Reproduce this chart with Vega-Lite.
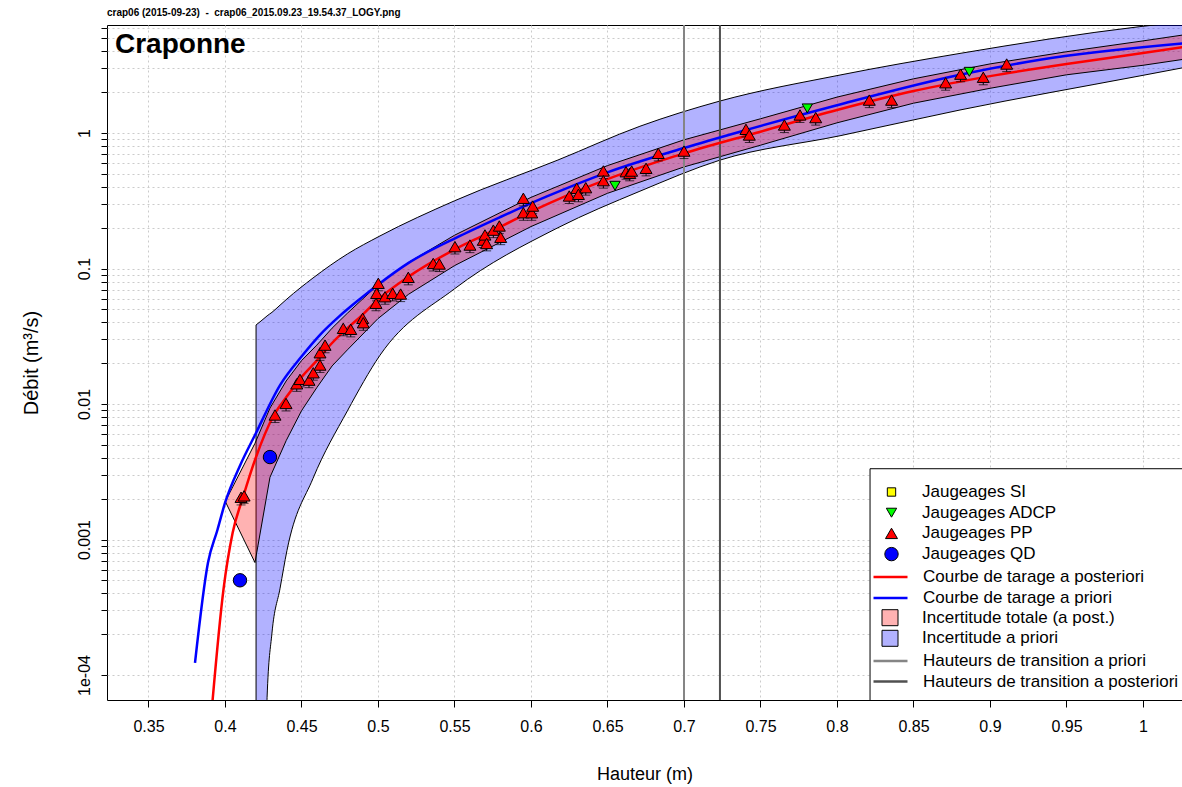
{
  "$schema": "https://vega.github.io/schema/vega-lite/v6.json",
  "width": 1075,
  "height": 675,
  "autosize": {"type": "none"},
  "padding": {"left": 107, "top": 25, "right": 0, "bottom": 87},
  "background": "white",
  "title": {
    "text": "crap06 (2015-09-23) \u00a0-\u00a0 crap06_2015.09.23_19.54.37_LOGY.png",
    "anchor": "start", "frame": "group", "fontSize": 10, "fontWeight": "bold",
    "offset": 6, "color": "black", "font": "Liberation Sans"
  },
  "config": {
    "font": "Liberation Sans",
    "view": {"stroke": "black", "strokeWidth": 1},
    "legend": {"labelFont": "Liberation Sans", "labelLimit": 500, "labelColor": "black"}
  },
  "datasets": {
    "prior_band": [
      {"h": 0.4203, "hi": 0.0383, "lo": 0.000001, "band": "Incertitude a priori"},
      {"h": 0.4268, "hi": 0.044, "lo": 0.000001, "band": "Incertitude a priori"},
      {"h": 0.4275, "hi": 0.0447, "lo": 0.000068, "band": "Incertitude a priori"},
      {"h": 0.4307, "hi": 0.0475, "lo": 0.000204, "band": "Incertitude a priori"},
      {"h": 0.436, "hi": 0.0537, "lo": 0.000437, "band": "Incertitude a priori"},
      {"h": 0.4405, "hi": 0.0596, "lo": 0.00083, "band": "Incertitude a priori"},
      {"h": 0.4575, "hi": 0.0851, "lo": 0.00282, "band": "Incertitude a priori"},
      {"h": 0.48, "hi": 0.128, "lo": 0.0089, "band": "Incertitude a priori"},
      {"h": 0.5013, "hi": 0.174, "lo": 0.0229, "band": "Incertitude a priori"},
      {"h": 0.55, "hi": 0.316, "lo": 0.0708, "band": "Incertitude a priori"},
      {"h": 0.6176, "hi": 0.632, "lo": 0.2, "band": "Incertitude a priori"},
      {"h": 0.6712, "hi": 1.122, "lo": 0.372, "band": "Incertitude a priori"},
      {"h": 0.7235, "hi": 1.722, "lo": 0.631, "band": "Incertitude a priori"},
      {"h": 0.802, "hi": 2.68, "lo": 0.955, "band": "Incertitude a priori"},
      {"h": 0.8804, "hi": 3.87, "lo": 1.479, "band": "Incertitude a priori"},
      {"h": 0.998, "hi": 6.1, "lo": 2.64, "band": "Incertitude a priori"},
      {"h": 1.03, "hi": 6.68, "lo": 3.09, "band": "Incertitude a priori"}
    ],
    "post_band": [
      {"h": 0.4002, "hi": 0.00191, "lo": 0.00191, "band": "Incertitude totale (a post.)"},
      {"h": 0.4196, "hi": 0.00513, "lo": 0.000676, "band": "Incertitude totale (a post.)"},
      {"h": 0.4294, "hi": 0.00933, "lo": 0.00288, "band": "Incertitude totale (a post.)"},
      {"h": 0.44, "hi": 0.0148, "lo": 0.00537, "band": "Incertitude totale (a post.)"},
      {"h": 0.45, "hi": 0.0209, "lo": 0.00891, "band": "Incertitude totale (a post.)"},
      {"h": 0.46, "hi": 0.0272, "lo": 0.0132, "band": "Incertitude totale (a post.)"},
      {"h": 0.47, "hi": 0.0363, "lo": 0.0191, "band": "Incertitude totale (a post.)"},
      {"h": 0.48, "hi": 0.0468, "lo": 0.0251, "band": "Incertitude totale (a post.)"},
      {"h": 0.5, "hi": 0.0759, "lo": 0.0427, "band": "Incertitude totale (a post.)"},
      {"h": 0.52, "hi": 0.111, "lo": 0.0646, "band": "Incertitude totale (a post.)"},
      {"h": 0.55, "hi": 0.176, "lo": 0.105, "band": "Incertitude totale (a post.)"},
      {"h": 0.6, "hi": 0.335, "lo": 0.204, "band": "Incertitude totale (a post.)"},
      {"h": 0.65, "hi": 0.575, "lo": 0.359, "band": "Incertitude totale (a post.)"},
      {"h": 0.7, "hi": 0.891, "lo": 0.562, "band": "Incertitude totale (a post.)"},
      {"h": 0.75, "hi": 1.274, "lo": 0.813, "band": "Incertitude totale (a post.)"},
      {"h": 0.8, "hi": 1.841, "lo": 1.189, "band": "Incertitude totale (a post.)"},
      {"h": 0.85, "hi": 2.512, "lo": 1.66, "band": "Incertitude totale (a post.)"},
      {"h": 0.9, "hi": 3.236, "lo": 2.138, "band": "Incertitude totale (a post.)"},
      {"h": 0.95, "hi": 3.98, "lo": 2.69, "band": "Incertitude totale (a post.)"},
      {"h": 1.0, "hi": 4.786, "lo": 3.162, "band": "Incertitude totale (a post.)"},
      {"h": 1.03, "hi": 5.37, "lo": 3.548, "band": "Incertitude totale (a post.)"}
    ],
    "trans_prior": [{"h": 0.7, "trans": "Hauteurs de transition a priori"}],
    "trans_post": [{"h": 0.7235, "trans": "Hauteurs de transition a posteriori"}],
    "curve_prior": [
      {"h": 0.3804, "q": 0.000123, "curve": "Courbe de tarage a priori"},
      {"h": 0.3889, "q": 0.000676, "curve": "Courbe de tarage a priori"},
      {"h": 0.395, "q": 0.00117, "curve": "Courbe de tarage a priori"},
      {"h": 0.4, "q": 0.00186, "curve": "Courbe de tarage a priori"},
      {"h": 0.41, "q": 0.00355, "curve": "Courbe de tarage a priori"},
      {"h": 0.42, "q": 0.00603, "curve": "Courbe de tarage a priori"},
      {"h": 0.436, "q": 0.0138, "curve": "Courbe de tarage a priori"},
      {"h": 0.45, "q": 0.0224, "curve": "Courbe de tarage a priori"},
      {"h": 0.4621, "q": 0.0324, "curve": "Courbe de tarage a priori"},
      {"h": 0.475, "q": 0.0447, "curve": "Courbe de tarage a priori"},
      {"h": 0.4882, "q": 0.0596, "curve": "Courbe de tarage a priori"},
      {"h": 0.5, "q": 0.0759, "curve": "Courbe de tarage a priori"},
      {"h": 0.52, "q": 0.11, "curve": "Courbe de tarage a priori"},
      {"h": 0.5536, "q": 0.174, "curve": "Courbe de tarage a priori"},
      {"h": 0.58, "q": 0.24, "curve": "Courbe de tarage a priori"},
      {"h": 0.61, "q": 0.339, "curve": "Courbe de tarage a priori"},
      {"h": 0.65, "q": 0.513, "curve": "Courbe de tarage a priori"},
      {"h": 0.7, "q": 0.776, "curve": "Courbe de tarage a priori"},
      {"h": 0.7366, "q": 1.023, "curve": "Courbe de tarage a priori"},
      {"h": 0.8, "q": 1.603, "curve": "Courbe de tarage a priori"},
      {"h": 0.8804, "q": 2.69, "curve": "Courbe de tarage a priori"},
      {"h": 0.9327, "q": 3.47, "curve": "Courbe de tarage a priori"},
      {"h": 1.03, "q": 4.62, "curve": "Courbe de tarage a priori"}
    ],
    "curve_post": [
      {"h": 0.391, "q": 0.00005, "curve": "Courbe de tarage a posteriori"},
      {"h": 0.399, "q": 0.000427, "curve": "Courbe de tarage a posteriori"},
      {"h": 0.405, "q": 0.00112, "curve": "Courbe de tarage a posteriori"},
      {"h": 0.412, "q": 0.00209, "curve": "Courbe de tarage a posteriori"},
      {"h": 0.42, "q": 0.00398, "curve": "Courbe de tarage a posteriori"},
      {"h": 0.432, "q": 0.0083, "curve": "Courbe de tarage a posteriori"},
      {"h": 0.44, "q": 0.0112, "curve": "Courbe de tarage a posteriori"},
      {"h": 0.45, "q": 0.0158, "curve": "Courbe de tarage a posteriori"},
      {"h": 0.46, "q": 0.0209, "curve": "Courbe de tarage a posteriori"},
      {"h": 0.47, "q": 0.0282, "curve": "Courbe de tarage a posteriori"},
      {"h": 0.48, "q": 0.0363, "curve": "Courbe de tarage a posteriori"},
      {"h": 0.49, "q": 0.0457, "curve": "Courbe de tarage a posteriori"},
      {"h": 0.5, "q": 0.0589, "curve": "Courbe de tarage a posteriori"},
      {"h": 0.52, "q": 0.0871, "curve": "Courbe de tarage a posteriori"},
      {"h": 0.55, "q": 0.138, "curve": "Courbe de tarage a posteriori"},
      {"h": 0.57, "q": 0.178, "curve": "Courbe de tarage a posteriori"},
      {"h": 0.6, "q": 0.263, "curve": "Courbe de tarage a posteriori"},
      {"h": 0.65, "q": 0.457, "curve": "Courbe de tarage a posteriori"},
      {"h": 0.7, "q": 0.708, "curve": "Courbe de tarage a posteriori"},
      {"h": 0.75, "q": 1.023, "curve": "Courbe de tarage a posteriori"},
      {"h": 0.8, "q": 1.479, "curve": "Courbe de tarage a posteriori"},
      {"h": 0.85, "q": 2.042, "curve": "Courbe de tarage a posteriori"},
      {"h": 0.9, "q": 2.63, "curve": "Courbe de tarage a posteriori"},
      {"h": 0.95, "q": 3.236, "curve": "Courbe de tarage a posteriori"},
      {"h": 1.0, "q": 3.89, "curve": "Courbe de tarage a posteriori"},
      {"h": 1.03, "q": 4.37, "curve": "Courbe de tarage a posteriori"}
    ],
    "gaugings": [
      {"h": 0.4105, "q": 0.00205, "qlo": 0.0018, "type": "Jaugeages PP"},
      {"h": 0.4125, "q": 0.0021, "qlo": 0.00185, "type": "Jaugeages PP"},
      {"h": 0.4327, "q": 0.0083, "qlo": 0.0073, "type": "Jaugeages PP"},
      {"h": 0.4399, "q": 0.0101, "qlo": 0.00889, "type": "Jaugeages PP"},
      {"h": 0.4469, "q": 0.0141, "qlo": 0.0124, "type": "Jaugeages PP"},
      {"h": 0.449, "q": 0.0152, "qlo": 0.0134, "type": "Jaugeages PP"},
      {"h": 0.4549, "q": 0.015, "qlo": 0.0132, "type": "Jaugeages PP"},
      {"h": 0.4577, "q": 0.017, "qlo": 0.015, "type": "Jaugeages PP"},
      {"h": 0.4621, "q": 0.0194, "qlo": 0.0171, "type": "Jaugeages PP"},
      {"h": 0.4621, "q": 0.0239, "qlo": 0.021, "type": "Jaugeages PP"},
      {"h": 0.4654, "q": 0.0272, "qlo": 0.0239, "type": "Jaugeages PP"},
      {"h": 0.4773, "q": 0.0362, "qlo": 0.0319, "type": "Jaugeages PP"},
      {"h": 0.4822, "q": 0.0356, "qlo": 0.0313, "type": "Jaugeages PP"},
      {"h": 0.49, "q": 0.0429, "qlo": 0.0378, "type": "Jaugeages PP"},
      {"h": 0.4904, "q": 0.0398, "qlo": 0.035, "type": "Jaugeages PP"},
      {"h": 0.4987, "q": 0.0554, "qlo": 0.0488, "type": "Jaugeages PP"},
      {"h": 0.4991, "q": 0.0656, "qlo": 0.0577, "type": "Jaugeages PP"},
      {"h": 0.5002, "q": 0.0778, "qlo": 0.0685, "type": "Jaugeages PP"},
      {"h": 0.5046, "q": 0.0619, "qlo": 0.0545, "type": "Jaugeages PP"},
      {"h": 0.5096, "q": 0.0656, "qlo": 0.0577, "type": "Jaugeages PP"},
      {"h": 0.5148, "q": 0.0648, "qlo": 0.057, "type": "Jaugeages PP"},
      {"h": 0.5198, "q": 0.0861, "qlo": 0.0758, "type": "Jaugeages PP"},
      {"h": 0.5361, "q": 0.109, "qlo": 0.0959, "type": "Jaugeages PP"},
      {"h": 0.5401, "q": 0.108, "qlo": 0.095, "type": "Jaugeages PP"},
      {"h": 0.5503, "q": 0.145, "qlo": 0.128, "type": "Jaugeages PP"},
      {"h": 0.5601, "q": 0.149, "qlo": 0.131, "type": "Jaugeages PP"},
      {"h": 0.5688, "q": 0.162, "qlo": 0.143, "type": "Jaugeages PP"},
      {"h": 0.5699, "q": 0.177, "qlo": 0.156, "type": "Jaugeages PP"},
      {"h": 0.571, "q": 0.153, "qlo": 0.135, "type": "Jaugeages PP"},
      {"h": 0.5754, "q": 0.192, "qlo": 0.169, "type": "Jaugeages PP"},
      {"h": 0.5793, "q": 0.206, "qlo": 0.181, "type": "Jaugeages PP"},
      {"h": 0.5802, "q": 0.17, "qlo": 0.15, "type": "Jaugeages PP"},
      {"h": 0.595, "q": 0.33, "qlo": 0.29, "type": "Jaugeages PP"},
      {"h": 0.595, "q": 0.258, "qlo": 0.227, "type": "Jaugeages PP"},
      {"h": 0.6005, "q": 0.258, "qlo": 0.227, "type": "Jaugeages PP"},
      {"h": 0.6011, "q": 0.289, "qlo": 0.254, "type": "Jaugeages PP"},
      {"h": 0.625, "q": 0.343, "qlo": 0.302, "type": "Jaugeages PP"},
      {"h": 0.6299, "q": 0.391, "qlo": 0.344, "type": "Jaugeages PP"},
      {"h": 0.631, "q": 0.353, "qlo": 0.311, "type": "Jaugeages PP"},
      {"h": 0.6358, "q": 0.395, "qlo": 0.348, "type": "Jaugeages PP"},
      {"h": 0.6473, "q": 0.525, "qlo": 0.462, "type": "Jaugeages PP"},
      {"h": 0.6473, "q": 0.445, "qlo": 0.392, "type": "Jaugeages PP"},
      {"h": 0.6621, "q": 0.518, "qlo": 0.456, "type": "Jaugeages PP"},
      {"h": 0.6645, "q": 0.505, "qlo": 0.444, "type": "Jaugeages PP"},
      {"h": 0.6658, "q": 0.524, "qlo": 0.461, "type": "Jaugeages PP"},
      {"h": 0.6752, "q": 0.549, "qlo": 0.483, "type": "Jaugeages PP"},
      {"h": 0.6832, "q": 0.708, "qlo": 0.623, "type": "Jaugeages PP"},
      {"h": 0.7, "q": 0.736, "qlo": 0.648, "type": "Jaugeages PP"},
      {"h": 0.7405, "q": 1.065, "qlo": 0.937, "type": "Jaugeages PP"},
      {"h": 0.7427, "q": 0.967, "qlo": 0.851, "type": "Jaugeages PP"},
      {"h": 0.7656, "q": 1.146, "qlo": 1.008, "type": "Jaugeages PP"},
      {"h": 0.7758, "q": 1.36, "qlo": 1.197, "type": "Jaugeages PP"},
      {"h": 0.7861, "q": 1.3, "qlo": 1.144, "type": "Jaugeages PP"},
      {"h": 0.8211, "q": 1.75, "qlo": 1.54, "type": "Jaugeages PP"},
      {"h": 0.8357, "q": 1.75, "qlo": 1.54, "type": "Jaugeages PP"},
      {"h": 0.871, "q": 2.35, "qlo": 2.07, "type": "Jaugeages PP"},
      {"h": 0.8808, "q": 2.72, "qlo": 2.39, "type": "Jaugeages PP"},
      {"h": 0.8956, "q": 2.58, "qlo": 2.27, "type": "Jaugeages PP"},
      {"h": 0.9109, "q": 3.23, "qlo": 2.84, "type": "Jaugeages PP"},
      {"h": 0.6549, "q": 0.408, "type": "Jaugeages ADCP"},
      {"h": 0.7806, "q": 1.52, "type": "Jaugeages ADCP"},
      {"h": 0.8865, "q": 2.83, "type": "Jaugeages ADCP"},
      {"h": 0.4098, "q": 0.0005, "type": "Jaugeages QD"},
      {"h": 0.4294, "q": 0.00406, "type": "Jaugeages QD"}
    ],
    "station": [{"name": "Craponne"}]
  },
  "resolve": {"scale": {"fill": "independent", "stroke": "independent"}},
  "layer": [
    {
      "data": {"name": "prior_band"},
      "mark": {"type": "area", "clip": true, "stroke": "black", "strokeWidth": 1, "interpolate": "monotone"},
      "encoding": {
        "x": {
          "field": "h", "type": "quantitative", "title": "Hauteur (m)",
          "scale": {"domain": [0.32288, 1.02549], "nice": false, "zero": false},
          "axis": {
            "title": "Hauteur (m)", "values": [0.35, 0.4, 0.45, 0.5, 0.55, 0.6, 0.65, 0.7, 0.75, 0.8, 0.85, 0.9, 0.95, 1],
            "format": "~g", "domain": false, "tickColor": "black", "tickSize": 7, "labelColor": "black",
            "labelFontSize": 16, "labelPadding": 11, "titleFontSize": 18, "titleFontWeight": "normal",
            "titleColor": "black", "titlePadding": 31, "grid": true, "gridColor": "#cbcbcb", "gridDash": [2, 3],
            "labelFlush": false, "labelOverlap": false
          }
        },
        "y": {
          "field": "hi", "type": "quantitative", "title": "Débit (m³/s)",
          "scale": {"type": "log", "domain": [0.0000654, 6.27], "nice": false},
          "axis": {
            "title": "Débit (m³/s)",
            "values": [0.0001, 0.0002, 0.0003, 0.0004, 0.0005, 0.0006, 0.0007, 0.0008, 0.0009, 0.001, 0.002, 0.003, 0.004, 0.005, 0.006, 0.007, 0.008, 0.009, 0.01, 0.02, 0.03, 0.04, 0.05, 0.06, 0.07, 0.08, 0.09, 0.1, 0.2, 0.3, 0.4, 0.5, 0.6, 0.7, 0.8, 0.9, 1, 2, 3, 4, 5, 6],
            "labelExpr": "datum.value == 1 ? '1' : datum.value == 0.1 ? '0.1' : datum.value == 0.01 ? '0.01' : datum.value == 0.001 ? '0.001' : datum.value == 0.0001 ? '1e-04' : ''",
            "domain": false, "tickColor": "black", "tickSize": 6, "labelColor": "black",
            "labelFontSize": 16, "labelAngle": -90, "labelAlign": "center", "labelBaseline": "bottom",
            "labelPadding": 9, "titleFontSize": 20, "titleFontWeight": "normal", "titleColor": "black",
            "titlePadding": 35, "grid": true, "gridColor": "#cbcbcb", "gridDash": [2, 3],
            "labelFlush": false, "labelOverlap": false
          }
        },
        "y2": {"field": "lo"},
        "fill": {
          "field": "band", "type": "nominal",
          "scale": {"domain": ["Incertitude a priori"], "range": ["rgba(0,0,255,0.3)"]},
          "legend": {"orient": "none", "legendX": 774.5, "legendY": 604.8, "title": null, "padding": 0,
            "symbolType": "square", "symbolSize": 256, "symbolStrokeColor": "black", "symbolStrokeWidth": 1,
            "labelFontSize": 17, "labelOffset": 23.5}
        }
      }
    },
    {
      "data": {"name": "post_band"},
      "mark": {"type": "area", "clip": true, "stroke": "black", "strokeWidth": 1},
      "encoding": {
        "x": {"field": "h", "type": "quantitative", "title": "Hauteur (m)"},
        "y": {"field": "hi", "type": "quantitative", "title": "Débit (m³/s)"},
        "y2": {"field": "lo"},
        "fill": {
          "field": "band", "type": "nominal",
          "scale": {"domain": ["Incertitude totale (a post.)"], "range": ["rgba(255,0,0,0.3)"]},
          "legend": {"orient": "none", "legendX": 774.5, "legendY": 584.2, "title": null, "padding": 0,
            "symbolType": "square", "symbolSize": 256, "symbolStrokeColor": "black", "symbolStrokeWidth": 1,
            "labelFontSize": 17, "labelOffset": 23.5}
        }
      }
    },
    {
      "data": {"name": "trans_prior"},
      "mark": {"type": "rule", "strokeWidth": 2},
      "encoding": {
        "x": {"field": "h", "type": "quantitative", "title": "Hauteur (m)"},
        "stroke": {
          "field": "trans", "type": "nominal",
          "scale": {"domain": ["Hauteurs de transition a priori"], "range": ["#858585"]},
          "legend": {"orient": "none", "legendX": 765, "legendY": 617.5, "title": null, "padding": 0,
            "symbolType": "stroke", "symbolSize": 1156, "symbolStrokeWidth": 2.5,
            "labelFontSize": 17, "labelOffset": 14}
        }
      }
    },
    {
      "data": {"name": "trans_post"},
      "mark": {"type": "rule", "strokeWidth": 2},
      "encoding": {
        "x": {"field": "h", "type": "quantitative", "title": "Hauteur (m)"},
        "stroke": {
          "field": "trans", "type": "nominal",
          "scale": {"domain": ["Hauteurs de transition a posteriori"], "range": ["#505050"]},
          "legend": {"orient": "none", "legendX": 765, "legendY": 638, "title": null, "padding": 0,
            "symbolType": "stroke", "symbolSize": 1156, "symbolStrokeWidth": 2.5,
            "labelFontSize": 17, "labelOffset": 14}
        }
      }
    },
    {
      "data": {"name": "curve_prior"},
      "mark": {"type": "line", "clip": true, "strokeWidth": 2.5, "interpolate": "monotone"},
      "encoding": {
        "x": {"field": "h", "type": "quantitative", "title": "Hauteur (m)"},
        "y": {"field": "q", "type": "quantitative", "title": "Débit (m³/s)"},
        "stroke": {
          "field": "curve", "type": "nominal",
          "scale": {"domain": ["Courbe de tarage a priori"], "range": ["#0000ff"]},
          "legend": {"orient": "none", "legendX": 765, "legendY": 554.5, "title": null, "padding": 0,
            "symbolType": "stroke", "symbolSize": 1156, "symbolStrokeWidth": 2.5,
            "labelFontSize": 17, "labelOffset": 14}
        }
      }
    },
    {
      "data": {"name": "curve_post"},
      "mark": {"type": "line", "clip": true, "strokeWidth": 2.5, "interpolate": "monotone"},
      "encoding": {
        "x": {"field": "h", "type": "quantitative", "title": "Hauteur (m)"},
        "y": {"field": "q", "type": "quantitative", "title": "Débit (m³/s)"},
        "stroke": {
          "field": "curve", "type": "nominal",
          "scale": {"domain": ["Courbe de tarage a posteriori"], "range": ["#ff0000"]},
          "legend": {"orient": "none", "legendX": 765, "legendY": 533.5, "title": null, "padding": 0,
            "symbolType": "stroke", "symbolSize": 1156, "symbolStrokeWidth": 2.5,
            "labelFontSize": 17, "labelOffset": 14}
        }
      }
    },
    {
      "data": {"name": "gaugings"},
      "transform": [{"filter": "isValid(datum.qlo)"}],
      "mark": {"type": "rule", "stroke": "black", "strokeWidth": 1},
      "encoding": {
        "x": {"field": "h", "type": "quantitative", "title": "Hauteur (m)"},
        "y": {"field": "qlo", "type": "quantitative", "title": "Débit (m³/s)"},
        "y2": {"field": "q"}
      }
    },
    {
      "data": {"name": "gaugings"},
      "transform": [{"filter": "isValid(datum.qlo)"}],
      "mark": {"type": "tick", "orient": "horizontal", "color": "black", "size": 9, "thickness": 1},
      "encoding": {
        "x": {"field": "h", "type": "quantitative", "title": "Hauteur (m)"},
        "y": {"field": "qlo", "type": "quantitative", "title": "Débit (m³/s)"}
      }
    },
    {
      "data": {"name": "gaugings"},
      "mark": {"type": "point", "filled": true, "stroke": "black", "strokeWidth": 1, "opacity": 1},
      "encoding": {
        "x": {"field": "h", "type": "quantitative", "title": "Hauteur (m)"},
        "y": {"field": "q", "type": "quantitative", "title": "Débit (m³/s)"},
        "shape": {
          "field": "type", "type": "nominal",
          "scale": {"domain": ["Jaugeages SI", "Jaugeages ADCP", "Jaugeages PP", "Jaugeages QD"], "range": ["square", "triangle-down", "triangle-up", "circle"]},
          "legend": {"orient": "none", "legendX": 776, "legendY": 458.5, "title": null, "padding": 0,
            "symbolStrokeColor": "black", "symbolStrokeWidth": 1, "rowPadding": 2.7, "labelFontSize": 17, "labelOffset": 22}
        },
        "color": {
          "field": "type", "type": "nominal",
          "scale": {"domain": ["Jaugeages SI", "Jaugeages ADCP", "Jaugeages PP", "Jaugeages QD"], "range": ["#ffff00", "#00ff00", "#ff0000", "#0000ff"]},
          "legend": {"orient": "none", "legendX": 776, "legendY": 458.5, "title": null, "padding": 0,
            "symbolStrokeColor": "black", "symbolStrokeWidth": 1, "rowPadding": 2.7, "labelFontSize": 17, "labelOffset": 22}
        },
        "size": {
          "field": "type", "type": "nominal",
          "scale": {"domain": ["Jaugeages SI", "Jaugeages ADCP", "Jaugeages PP", "Jaugeages QD"], "range": [70, 180, 180, 85]},
          "legend": {"orient": "none", "legendX": 776, "legendY": 458.5, "title": null, "padding": 0,
            "symbolStrokeColor": "black", "symbolStrokeWidth": 1, "rowPadding": 2.7, "labelFontSize": 17, "labelOffset": 22}
        }
      }
    },
    {
      "data": {"values": [{}]},
      "mark": {"type": "rect", "clip": true, "fill": "white", "stroke": "black", "strokeWidth": 1},
      "encoding": {
        "x": {"datum": 0.8216, "type": "quantitative", "title": "Hauteur (m)"},
        "x2": {"datum": 1.2},
        "y": {"datum": 0.00333, "type": "quantitative", "title": "Débit (m³/s)"},
        "y2": {"datum": 0.000001}
      }
    },
    {
      "data": {"name": "station"},
      "mark": {"type": "text", "fontSize": 28, "fontWeight": "bold", "align": "left", "baseline": "alphabetic", "color": "black", "font": "Liberation Sans"},
      "encoding": {
        "x": {"datum": 0.3281, "type": "quantitative", "title": "Hauteur (m)"},
        "y": {"datum": 3.9, "type": "quantitative", "title": "Débit (m³/s)"},
        "text": {"field": "name"}
      }
    }
  ]
}
